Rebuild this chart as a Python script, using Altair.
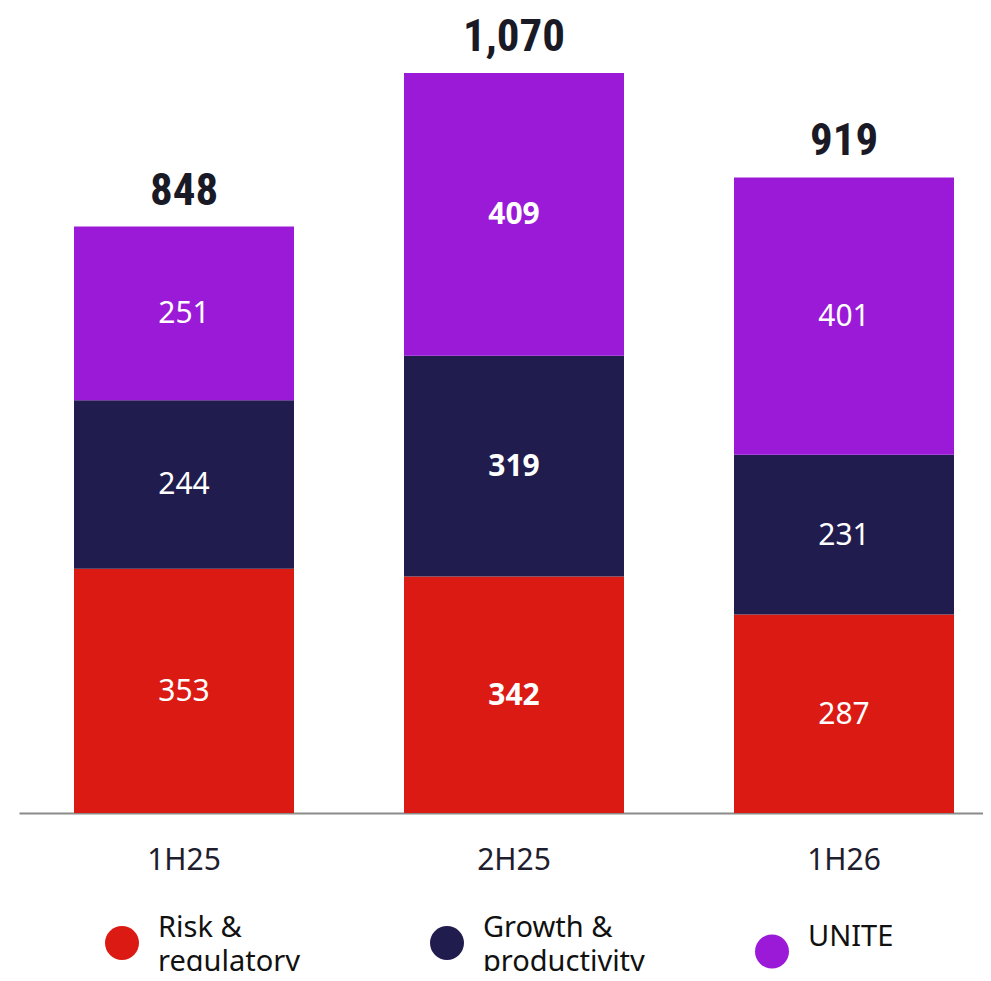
import altair as alt
import pandas as pd

periods = ["1H25", "2H25", "1H26"]
categories = ["Risk & regulatory", "Growth & productivity", "UNITE"]
risk = [353, 342, 287]
growth = [244, 319, 231]
unite = [251, 409, 401]
colors = ["#DC1A14", "#201C4E", "#9A1AD8"]

rows = []
for i, p in enumerate(periods):
    for j, (c, vals) in enumerate(zip(categories, [risk, growth, unite])):
        rows.append({"period": p, "category": c, "value": vals[i], "order": j})
df = pd.DataFrame(rows)

FONT = "Noto Sans"
TOTAL_FONT = "Roboto Condensed, DejaVu Sans Condensed, sans-serif"

x_enc = alt.X("period:N", sort=periods,
              scale=alt.Scale(paddingInner=1/3, paddingOuter=0.12727, align=0.6548),
              axis=alt.Axis(title=None, labelAngle=0, labelFontSize=30, labelFont=FONT,
                            labelColor="#1e1e2e", ticks=False, tickSize=0, labelPadding=32,
                            domainColor="#8a8a8a", domainWidth=2, grid=False))
y_scale = alt.Scale(domain=[0, 1164], nice=False, zero=True)

base = alt.Chart(df).transform_stack(
    stack="value", as_=["y0", "y1"], groupby=["period"],
    sort=[alt.SortField("order", order="ascending")]
).transform_calculate(mid="(datum.y0 + datum.y1) / 2")

bars = base.mark_bar().encode(
    x=x_enc,
    y=alt.Y("y0:Q", scale=y_scale, axis=None),
    y2="y1:Q",
    color=alt.Color("category:N", sort=categories,
                    scale=alt.Scale(domain=categories, range=colors),
                    legend=alt.Legend(
                        title=None, orient="none", direction="horizontal", columns=3,
                        legendX=86, legendY=918, padding=0,
                        symbolType="circle", symbolSize=1156, symbolStrokeWidth=0,
                        labelFont=FONT, labelFontSize=29, labelColor="#111111",
                        labelBaseline="bottom",
                        labelOffset=19, columnPadding=110, gridAlign="all", labelLimit=400,
                        labelExpr="indexof(datum.label, ' & ') > 0 ? [slice(datum.label, 0, indexof(datum.label, ' & ') + 2), slice(datum.label, indexof(datum.label, ' & ') + 3)] : datum.label")),
)

seg_norm = base.transform_filter("datum.period != '2H25'").mark_text(
    color="white", fontSize=30, font=FONT, baseline="middle", fontWeight="normal", dy=1
).encode(x=alt.X("period:N", sort=periods), y=alt.Y("mid:Q", scale=y_scale), text="value:Q")

seg_bold = base.transform_filter("datum.period == '2H25'").mark_text(
    color="white", fontSize=30, font=FONT, baseline="middle", fontWeight="bold", dy=1
).encode(x=alt.X("period:N", sort=periods), y=alt.Y("mid:Q", scale=y_scale), text="value:Q")

totals = alt.Chart(df).transform_aggregate(
    total="sum(value)", groupby=["period"]
).mark_text(
    color="#1a1a26", fontSize=45, font=TOTAL_FONT, fontWeight="bold",
    baseline="alphabetic", dy=-22
).encode(x=alt.X("period:N", sort=periods), y=alt.Y("total:Q", scale=y_scale),
         text=alt.Text("total:Q", format=","))

chart = alt.layer(bars, seg_norm, seg_bold, totals).properties(
    width=964, height=805,
    autosize=alt.AutoSizeParams(type="none"),
    padding={"left": 11, "top": 0, "right": 0, "bottom": 158},
).configure(background="white", view=alt.ViewConfig(stroke=None),
            style={"guide-label": {"lineHeight": 34}})

chart.save("out.html", embed_options={"renderer": "svg", "actions": False})
